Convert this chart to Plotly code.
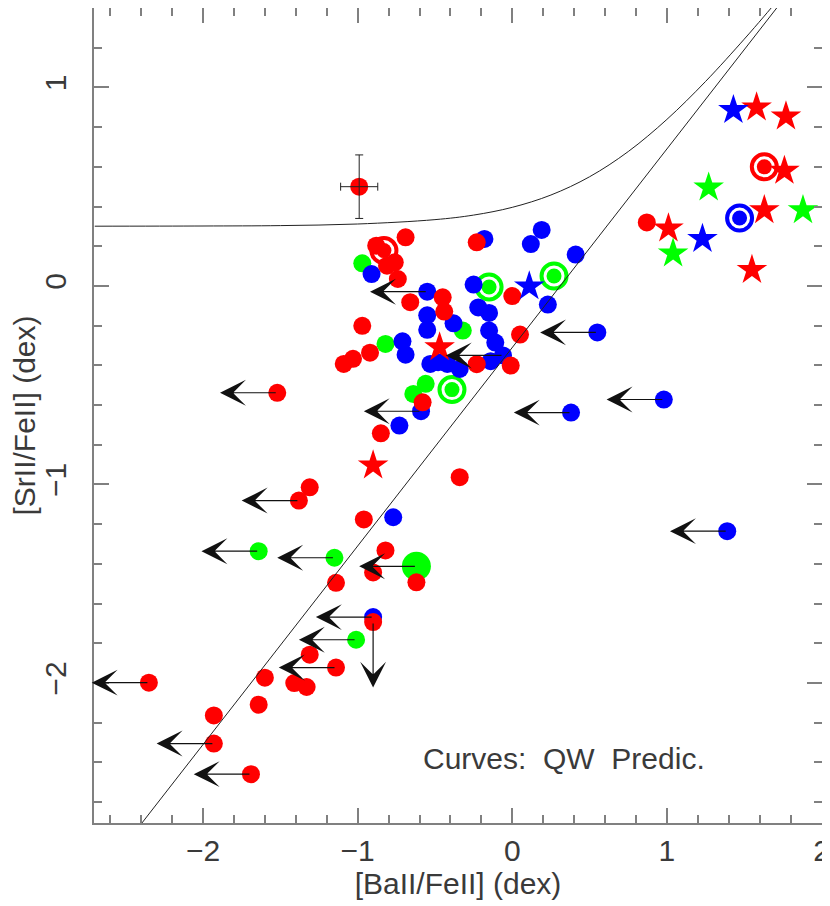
import plotly.graph_objects as go

# red filled circles (detections)
red_x = [-0.69, -0.88, -0.76, -0.81, -0.74, -0.66, -0.45, -0.44, -0.97, -0.92, -1.03,
         -1.09, -0.23, -0.01, 0.05, 0.00, -0.23, -0.58, -0.85, -0.34, -1.31, -0.96,
         -0.82, -0.90, -0.62, -1.14, -1.31, -1.60, -1.41, -1.33, -1.64, -1.93, 0.87]
red_y = [0.245, 0.203, 0.119, 0.102, 0.035, -0.082, -0.057, -0.129, -0.201, -0.336, -0.367,
         -0.393, -0.394, -0.401, -0.245, -0.051, 0.220, -0.586, -0.742, -0.963, -1.014, -1.176,
         -1.332, -1.443, -1.493, -1.495, -1.857, -1.973, -2.000, -2.020, -2.109, -2.163, 0.320]
# red upper limits in [BaII/FeII]
red_lim_x = [-1.52, -1.38, -1.14, -2.35, -1.93, -1.69]
red_lim_y = [-0.538, -1.081, -1.922, -1.998, -2.305, -2.459]
# red upper limit in [SrII/FeII]
red_vlim_x = [-0.90]
red_vlim_y = [-1.693]
red_ring_x = [-0.83, 1.63]
red_ring_y = [0.178, 0.600]
red_star_x = [-0.47, -0.90, 1.58, 1.77, 1.76, 1.63, 1.01, 1.55]
red_star_y = [-0.309, -0.904, 0.899, 0.854, 0.580, 0.382, 0.290, 0.081]

# typical error bar
err_x = [-0.99]
err_y = [0.50]
err_dx = [0.12]
err_dy = [0.16]

blue_x = [-0.18, 0.19, 0.12, 0.41, -0.91, -0.25, -0.22, -0.15, 0.23, -0.55, -0.55, -0.38,
          -0.15, -0.11, -0.14, -0.71, -0.69, -0.53, -0.48, -0.42, -0.34, -0.73, -0.77]
blue_y = [0.237, 0.282, 0.211, 0.158, 0.060, 0.007, -0.108, -0.136, -0.094, -0.148, -0.221,
          -0.188, -0.225, -0.285, -0.379, -0.279, -0.346, -0.393, -0.384, -0.393, -0.418,
          -0.703, -1.165]
blue_lim_x = [-0.55, -0.06, -0.59, 0.55, 0.38, 0.98, 1.39, -0.90]
blue_lim_y = [-0.029, -0.350, -0.631, -0.234, -0.638, -0.572, -1.235, -1.668]
blue_ring_x = [1.47]
blue_ring_y = [0.342]
blue_star_x = [0.11, 1.43, 1.23]
blue_star_y = [-0.002, 0.886, 0.237]

green_x = [-0.97, -0.32, -0.82, -0.56, -0.64]
green_y = [0.114, -0.225, -0.292, -0.493, -0.544]
green_lim_x = [-1.64, -1.15, -1.01]
green_lim_y = [-1.336, -1.369, -1.782]
green_big_x = [-0.62]
green_big_y = [-1.412]
green_ring_x = [-0.15, 0.27, -0.39]
green_ring_y = [-0.005, 0.050, -0.522]
green_star_x = [1.27, 1.88, 1.04]
green_star_y = [0.496, 0.382, 0.164]

# QW predictions
line_x = [-2.70, 2.00]
line_y = [-3.01, 1.69]
curve_x = [-2.7, -2.0, -1.5, -1.0, -0.5, -0.25, 0.0, 0.25, 0.5, 0.75, 1.0, 1.25, 1.5, 1.625, 1.75]
curve_y = [0.301, 0.302, 0.304, 0.312, 0.334, 0.357, 0.396, 0.458, 0.550, 0.677, 0.839,
           1.030, 1.243, 1.355, 1.470]

RED, BLUE, GREEN = "#ff0000", "#0000ff", "#00ff00"
ARROW_LEN = 0.37
VARROW_LEN = 0.33
FONT = "Liberation Sans"
TXT = "#3a3a3a"
AX = "#808080"

fig = go.Figure()


def points(x, y, color, symbol="circle", size=18):
    fig.add_trace(go.Scatter(x=x, y=y, mode="markers", showlegend=False, hoverinfo="skip",
                             marker=dict(symbol=symbol, size=size, color=color,
                                         line=dict(width=0))))


def ringed(x, y, color):
    fig.add_trace(go.Scatter(x=x, y=y, mode="markers", showlegend=False, hoverinfo="skip",
                             marker=dict(symbol="circle-open", size=25, color=color,
                                         line=dict(width=4, color=color))))
    points(x, y, color, size=15)


ringed(red_ring_x, red_ring_y, RED)
ringed(green_ring_x, green_ring_y, GREEN)
ringed(blue_ring_x, blue_ring_y, BLUE)
points(green_big_x, green_big_y, GREEN, size=29)
points(green_x + green_lim_x, green_y + green_lim_y, GREEN)
points(blue_x + blue_lim_x, blue_y + blue_lim_y, BLUE)
points(red_x + red_lim_x + red_vlim_x + err_x, red_y + red_lim_y + red_vlim_y + err_y, RED)
points(red_star_x, red_star_y, RED, "star", 23)
points(blue_star_x, blue_star_y, BLUE, "star", 23)
points(green_star_x, green_star_y, GREEN, "star", 23)

fig.add_trace(go.Scatter(
    x=err_x, y=err_y, mode="markers", showlegend=False, hoverinfo="skip",
    marker=dict(size=1, opacity=0),
    error_x=dict(type="data", array=err_dx, color="#222", thickness=1, width=4),
    error_y=dict(type="data", array=err_dy, color="#222", thickness=1, width=4)))

fig.add_trace(go.Scatter(x=line_x, y=line_y, mode="lines", showlegend=False,
                         line=dict(color="#222", width=1)))
fig.add_trace(go.Scatter(x=curve_x, y=curve_y, mode="lines", showlegend=False,
                         line=dict(color="#222", width=1, shape="spline")))

arrows = []
for xs, ys in [(red_lim_x, red_lim_y), (blue_lim_x, blue_lim_y), (green_lim_x, green_lim_y),
               (green_big_x, green_big_y)]:
    for x0, y0 in zip(xs, ys):
        arrows.append(dict(x=x0 - ARROW_LEN, y=y0, ax=x0, ay=y0))
for x0, y0 in zip(red_vlim_x, red_vlim_y):
    arrows.append(dict(x=x0, y=y0 - VARROW_LEN, ax=x0, ay=y0))
for a in arrows:
    fig.add_annotation(**a, xref="x", yref="y", axref="x", ayref="y", text="",
                       showarrow=True, arrowhead=3, arrowsize=3.6, arrowwidth=1.2,
                       arrowcolor="#111", standoff=0, startstandoff=0)

fig.add_annotation(x=-0.59, y=-2.38, xref="x", yref="y", xanchor="left", yanchor="middle",
                   text="Curves:  QW  Predic.", showarrow=False,
                   font=dict(family=FONT, size=30, color=TXT))

axis = dict(showgrid=False, zeroline=False, showline=True, linecolor=AX, linewidth=2,
            mirror="allticks", ticks="inside", ticklen=15, tickwidth=1.5, tickcolor=AX,
            dtick=1, tick0=0, automargin=False,
            tickfont=dict(family=FONT, size=30, color=TXT),
            minor=dict(dtick=0.2, ticks="inside", ticklen=8, tickwidth=1.5, tickcolor=AX))

# the page body adds an 8px offset, so the figure is 8px smaller than the window
fig.update_layout(
    width=822, height=898, margin=dict(l=86, r=8, t=0, b=83),
    plot_bgcolor="white", paper_bgcolor="white",
    xaxis=dict(axis, range=[-2.705, 2.003], ticklabelstandoff=0,
               title=dict(text="[BaII/FeII] (dex)", standoff=0,
                          font=dict(family=FONT, size=30, color=TXT))),
    yaxis=dict(axis, range=[-2.705, 1.4], tickangle=-90, ticklabelstandoff=14,
               title=dict(text="[SrII/FeII] (dex)", standoff=4,
                          font=dict(family=FONT, size=30, color=TXT))),
)

fig.write_html("out.html")
